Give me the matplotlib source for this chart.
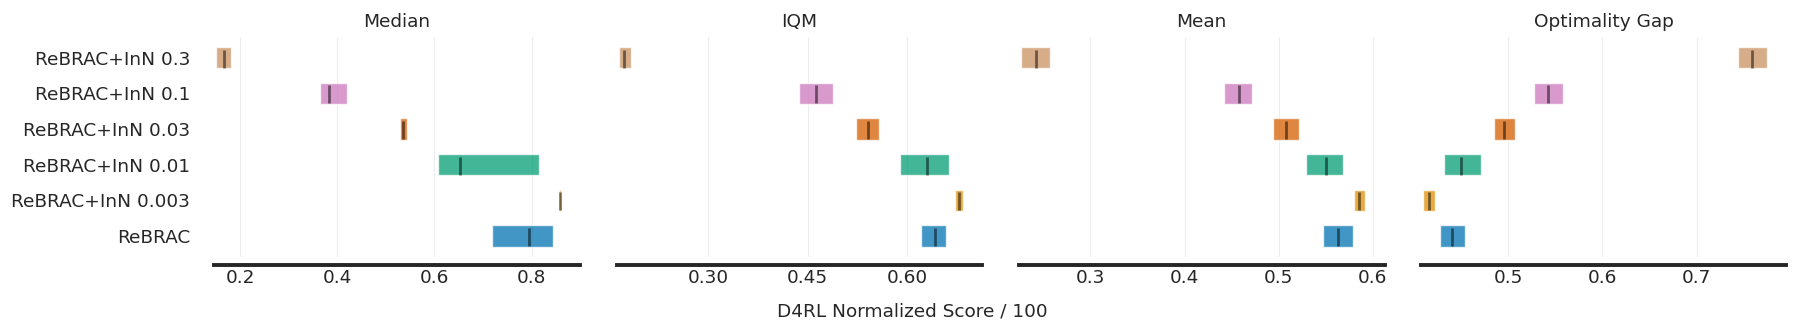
import matplotlib
matplotlib.use('Agg')
import matplotlib.pyplot as plt
import seaborn as sns

# algorithms listed bottom -> top (row index = position in list)
algorithms = ['ReBRAC', 'ReBRAC+InN 0.003', 'ReBRAC+InN 0.01',
              'ReBRAC+InN 0.03', 'ReBRAC+InN 0.1', 'ReBRAC+InN 0.3']
metric_names = ['Median', 'IQM', 'Mean', 'Optimality Gap']

# point estimates per metric, same order as algorithms
median_point = [0.795, 0.858, 0.653, 0.536, 0.383, 0.167]
iqm_point = [0.641, 0.677, 0.629, 0.540, 0.463, 0.174]
mean_point = [0.5635, 0.585, 0.550, 0.508, 0.4576, 0.242]
gap_point = [0.440, 0.4164, 0.450, 0.4958, 0.5427, 0.7586]

# confidence intervals (lower, upper)
median_ci = [(0.7176, 0.8444), (0.8555, 0.8602), (0.6081, 0.8153),
             (0.5293, 0.5435), (0.3647, 0.419), (0.1504, 0.1811)]
iqm_ci = [(0.6201, 0.6582), (0.6712, 0.6833), (0.588, 0.6627),
          (0.5222, 0.5564), (0.437, 0.4881), (0.166, 0.1841)]
mean_ci = [(0.5472, 0.5791), (0.5795, 0.5915), (0.5292, 0.5678),
           (0.4945, 0.5221), (0.4417, 0.4721), (0.2263, 0.2571)]
gap_ci = [(0.428, 0.4545), (0.4101, 0.4224), (0.4323, 0.4707),
          (0.4852, 0.5074), (0.5279, 0.5582), (0.7434, 0.7741)]

# axis ranges and ticks per metric
xlims = [(0.1464, 0.8988), (0.1625, 0.7124), (0.2242, 0.6124), (0.4076, 0.7952)]
xticks = [[0.2, 0.4, 0.6, 0.8], [0.30, 0.45, 0.60],
          [0.3, 0.4, 0.5, 0.6], [0.5, 0.6, 0.7]]
tick_fmt = ['{:.1f}', '{:.2f}', '{:.1f}', '{:.1f}']

points = [median_point, iqm_point, mean_point, gap_point]
intervals = [median_ci, iqm_ci, mean_ci, gap_ci]

sns.set_style('whitegrid')
plt.rcParams['font.family'] = ['DejaVu Sans']
text_color = '#262626'

palette = sns.color_palette('colorblind', n_colors=len(algorithms))
colors = dict(zip(algorithms, palette))

W, H = 1798, 333
fig = plt.figure(figsize=(W / 100, H / 100), dpi=100)

ax_left_px = [214.1, 616.7, 1019.0, 1421.0]
ax_w_px = 365.5
ax_top_px, ax_bot_px = 36.7, 256.7

h = 0.6
fs = 13.3
for idx, metric in enumerate(metric_names):
    ax = fig.add_axes([ax_left_px[idx] / W, 1 - ax_bot_px / H,
                       ax_w_px / W, (ax_bot_px - ax_top_px) / H])
    for alg_idx, alg in enumerate(algorithms):
        lo, hi = intervals[idx][alg_idx]
        ax.barh(y=alg_idx, width=hi - lo, height=h, left=lo,
                color=colors[alg], alpha=0.75, edgecolor='white', linewidth=1)
        ax.vlines(x=points[idx][alg_idx], ymin=alg_idx - 7.5 * h / 16,
                  ymax=alg_idx + 6 * h / 16, color='k', alpha=0.5, linewidth=2)

    ax.set_xlim(*xlims[idx])
    ax.set_ylim(-0.58, 5.59)
    ax.set_xticks(xticks[idx])
    ax.set_xticklabels([tick_fmt[idx].format(t) for t in xticks[idx]])
    if idx == 0:
        ax.set_yticks(range(len(algorithms)))
        ax.set_yticklabels(algorithms)
    else:
        ax.set_yticks([])
    ax.set_title(metric, fontsize=fs, color=text_color, pad=7)

    for side in ['right', 'top', 'left']:
        ax.spines[side].set_visible(False)
    ax.spines['bottom'].set_linewidth(2.8)
    ax.spines['bottom'].set_color(text_color)
    ax.spines['bottom'].set_position(('outward', 6))
    ax.tick_params(length=0.1, width=0.1, labelsize=fs, colors=text_color)
    ax.tick_params(axis='y', pad=17)
    ax.tick_params(axis='x', pad=3)
    ax.grid(False, axis='y')
    ax.grid(True, axis='x', alpha=0.35)
    ax.set_facecolor('white')

fig.text(912.3 / W, 1 - 316.7 / H, 'D4RL Normalized Score / 100', ha='center',
         va='baseline', fontsize=fs, color=text_color)

fig.savefig('out.png', dpi=100, facecolor='white')
